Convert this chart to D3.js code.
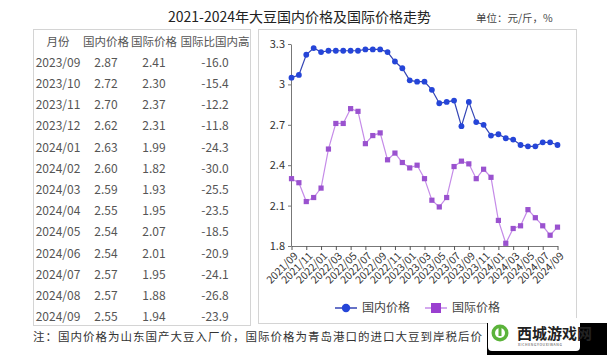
<!DOCTYPE html>
<html>
<head>
<meta charset="utf-8">
<script src="https://cdn.jsdelivr.net/npm/d3@7"></script>
<style>
  html, body { margin: 0; padding: 0; background: #fff; }
  svg { display: block; }
  text { font-family: "Noto Sans CJK SC", "Noto Sans", sans-serif; }
</style>
</head>
<body>
<svg id="chart" width="607" height="355"></svg>
<script>
// ---- Table data ----
const tableHeaders = ["月份", "国内价格", "国际价格", "国际比国内高"];
const tableMonths = ["2023/09","2023/10","2023/11","2023/12","2024/01","2024/02","2024/03","2024/04","2024/05","2024/06","2024/07","2024/08","2024/09"];
const tableDomestic = ["2.87","2.72","2.70","2.62","2.63","2.60","2.59","2.55","2.54","2.54","2.57","2.57","2.55"];
const tableIntl = ["2.41","2.30","2.37","2.31","1.99","1.82","1.93","1.95","2.07","2.01","1.95","1.88","1.94"];
const tableDiff = ["-16.0","-15.4","-12.2","-11.8","-24.3","-30.0","-25.5","-23.5","-18.5","-20.9","-24.1","-26.8","-23.9"];

// ---- Chart data ----
const months = ["2021/09","2021/10","2021/11","2021/12","2022/01","2022/02","2022/03","2022/04","2022/05","2022/06","2022/07","2022/08","2022/09","2022/10","2022/11","2022/12","2023/01","2023/02","2023/03","2023/04","2023/05","2023/06","2023/07","2023/08","2023/09","2023/10","2023/11","2023/12","2024/01","2024/02","2024/03","2024/04","2024/05","2024/06","2024/07","2024/08","2024/09"];
const domestic = [3.05,3.07,3.22,3.27,3.24,3.25,3.25,3.25,3.25,3.25,3.26,3.26,3.26,3.24,3.17,3.12,3.03,3.02,3.02,2.96,2.86,2.87,2.88,2.69,2.87,2.72,2.70,2.62,2.63,2.60,2.59,2.55,2.54,2.54,2.57,2.57,2.55];
const international = [2.30,2.27,2.13,2.16,2.23,2.52,2.71,2.71,2.82,2.80,2.56,2.62,2.64,2.44,2.49,2.42,2.38,2.40,2.30,2.14,2.09,2.16,2.39,2.43,2.41,2.30,2.37,2.31,1.99,1.82,1.93,1.95,2.07,2.01,1.95,1.88,1.94];
const yTicks = [1.8, 2.1, 2.4, 2.7, 3, 3.3];
const xTickLabels = months.filter((m, i) => i % 2 === 0);
const seriesNames = ["国内价格", "国际价格"];

const titleText = "2021-2024年大豆国内价格及国际价格走势";
const unitText = "单位：元/斤，%";
const noteText = "注：国内价格为山东国产大豆入厂价，国际价格为青岛港口的进口大豆到岸税后价";

const svg = d3.select("#chart");

// Title
svg.append("text").attr("x", 168).attr("y", 22)
  .attr("font-size", 14).attr("fill", "#222").text(titleText);
svg.append("text").attr("x", 476).attr("y", 22)
  .attr("font-size", 10.5).attr("fill", "#444").text(unitText);

// Panels
svg.append("rect").attr("x", 33.5).attr("y", 29.5).attr("width", 217).attr("height", 296)
  .attr("fill", "#fff").attr("stroke", "#d4d4d4");
svg.append("rect").attr("x", 258.5).attr("y", 29.5).attr("width", 318).attr("height", 294)
  .attr("fill", "#fff").attr("stroke", "#d4d4d4");

// Table
const colX = [58, 106, 154, 215];
const headY = 42, rowY0 = 62.5, rowH = 21.2;
svg.append("g").selectAll("text").data(tableHeaders).join("text")
  .attr("x", (d, i) => colX[i]).attr("y", headY).attr("dy", "0.35em")
  .attr("text-anchor", "middle").attr("font-size", 11.5).attr("fill", "#555").text(d => d);
const rows = tableMonths.map((m, i) => [m, tableDomestic[i], tableIntl[i], tableDiff[i]]);
const rowG = svg.append("g").selectAll("g").data(rows).join("g")
  .attr("transform", (d, i) => `translate(0,${rowY0 + i * rowH})`);
rowG.selectAll("text").data(d => d).join("text")
  .attr("x", (d, i) => colX[i]).attr("dy", "0.35em")
  .attr("text-anchor", "middle").attr("font-size", 12).attr("fill", "#555").text(d => d);

// Scales
const x = d3.scalePoint().domain(months).range([291.5, 557.5]);
const y = d3.scaleLinear().domain([1.8, 3.3]).range([246, 44]);

// Axes
const yAxis = svg.append("g").attr("transform", "translate(291,0)")
  .call(d3.axisLeft(y).tickValues(yTicks).tickSize(3).tickSizeOuter(0).tickFormat(d => String(d)));
yAxis.select(".domain").attr("stroke", "#777");
yAxis.selectAll(".tick line").attr("stroke", "#777");
yAxis.selectAll(".tick text").attr("font-size", 11).attr("fill", "#333")
  .attr("font-family", "'Noto Sans', sans-serif");

const xAxis = svg.append("g").attr("transform", "translate(0,246)")
  .call(d3.axisBottom(x).tickValues(xTickLabels).tickSize(4).tickSizeOuter(0));
xAxis.select(".domain").attr("stroke", "#777");
xAxis.selectAll(".tick line").attr("stroke", "#555");
xAxis.selectAll(".tick text")
  .attr("font-size", 10.5).attr("fill", "#333")
  .attr("font-family", "'Noto Sans', sans-serif")
  .attr("text-anchor", "end")
  .attr("x", 0).attr("y", 0).attr("dy", "0.35em")
  .attr("transform", "translate(4,8) rotate(-45)");

// Lines
const lineGen = d3.line().x((d, i) => x(months[i])).y(d => y(d));
svg.append("path").datum(international).attr("d", lineGen)
  .attr("fill", "none").attr("stroke", "#c58be8").attr("stroke-width", 1.2);
svg.append("g").selectAll("rect").data(international).join("rect")
  .attr("x", (d, i) => x(months[i]) - 2.6).attr("y", d => y(d) - 2.6)
  .attr("width", 5.2).attr("height", 5.2).attr("fill", "#9a52cf");

svg.append("path").datum(domestic).attr("d", lineGen)
  .attr("fill", "none").attr("stroke", "#3445b5").attr("stroke-width", 1.2);
svg.append("g").selectAll("circle").data(domestic).join("circle")
  .attr("cx", (d, i) => x(months[i])).attr("cy", d => y(d))
  .attr("r", 2.9).attr("fill", "#2545d8");

// Legend
const legY = 308;
const leg = svg.append("g");
leg.append("line").attr("x1", 335).attr("x2", 357).attr("y1", legY).attr("y2", legY)
  .attr("stroke", "#3445b5").attr("stroke-width", 1.5);
leg.append("circle").attr("cx", 346).attr("cy", legY).attr("r", 4.2).attr("fill", "#2545d8");
leg.append("text").attr("x", 362).attr("y", legY).attr("dy", "0.35em")
  .attr("font-size", 12).attr("fill", "#444").text(seriesNames[0]);
leg.append("line").attr("x1", 425).attr("x2", 447).attr("y1", legY).attr("y2", legY)
  .attr("stroke", "#c58be8").attr("stroke-width", 1.5);
leg.append("rect").attr("x", 431).attr("y", legY - 5).attr("width", 10).attr("height", 10).attr("fill", "#9a3fd0");
leg.append("text").attr("x", 452).attr("y", legY).attr("dy", "0.35em")
  .attr("font-size", 12).attr("fill", "#444").text(seriesNames[1]);

// Note
svg.append("text").attr("x", 33).attr("y", 341)
  .attr("font-size", 11.5).attr("letter-spacing", 1).attr("fill", "#333").text(noteText);

// Watermark
const wm = svg.append("g");
wm.append("rect").attr("x", 487).attr("y", 323).attr("width", 120).attr("height", 32).attr("fill", "#000");
wm.append("rect").attr("x", 488).attr("y", 318).attr("width", 92).attr("height", 33).attr("rx", 4).attr("fill", "#fff");
wm.append("circle").attr("cx", 500).attr("cy", 333).attr("r", 8.5).attr("fill", "#5bb33a");
wm.append("circle").attr("cx", 500).attr("cy", 333).attr("r", 5).attr("fill", "#fff");
wm.append("rect").attr("x", 498.5).attr("y", 327).attr("width", 3).attr("height", 9).attr("fill", "#5bb33a");
wm.append("text").attr("x", 517).attr("y", 339).attr("font-size", 15).attr("font-weight", "bold")
  .attr("fill", "#222").text("西城游戏网");
wm.append("text").attr("x", 518).attr("y", 346).attr("font-size", 3.5).attr("fill", "#444")
  .attr("letter-spacing", 0.6).text("XICHENGYOUXIWANG");
</script>
</body>
</html>
